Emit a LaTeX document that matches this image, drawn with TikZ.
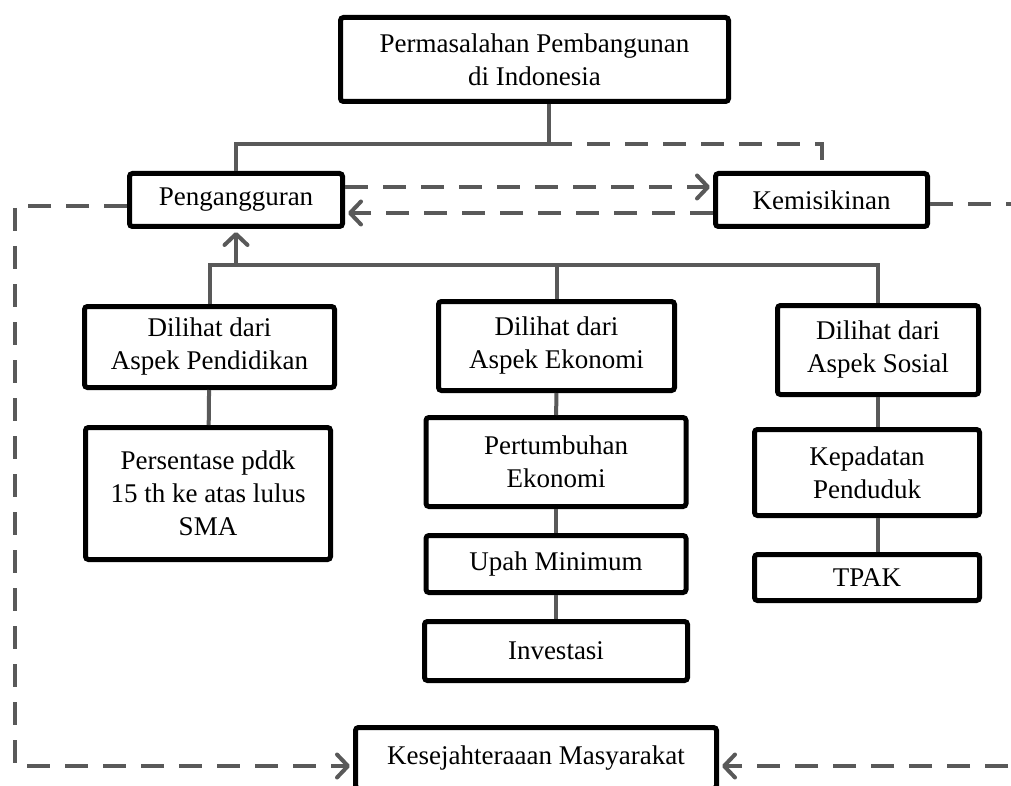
\documentclass[tikz,border=0pt]{standalone}
\usepackage{fontspec}
\setmainfont{Liberation Serif}
\usepackage{tikz}
\usetikzlibrary{arrows.meta,positioning,calc}
\definecolor{abu}{HTML}{595959}
\tikzset{
  kotak/.style={draw=black,fill=white,line width=2.5pt,rounded corners=1.5pt,align=center,inner sep=0pt,font=\fontsize{13.5}{16.5}\selectfont},
  garis/.style={abu,line width=2pt},
  putus/.style={garis,dash pattern=on 11.5pt off 7.5pt},
  panah/.style={-{Straight Barb[length=5.5pt,width=11.5pt,round]},shorten >=1.5pt},
}

\begin{document}
\begin{tikzpicture}[x=0.5pt,y=-0.5pt]
  \clip (0,0) rectangle (1011,786);
  % baris atas
  \node[kotak,minimum width=194pt,minimum height=42pt] (atas) at (534.5,59.5) {Permasalahan Pembangunan\\di Indonesia};
  \node[kotak,minimum width=106.5pt,minimum height=26.5pt] (peng) at (236,200) {Pengangguran};
  \node[kotak,minimum width=106pt,minimum height=26.5pt] (miskin) at (821.5,200) {Kemisikinan};
  % tiga aspek
  \node[kotak,minimum width=125pt,minimum height=40.5pt] (didik) at (209.5,347) {Dilihat dari\\Aspek Pendidikan};
  \node[kotak,minimum width=122.5pt,minimum height=66pt] (sma) at (208,493.5) {Persentase pddk\\15 th ke atas lulus\\SMA};
  \node[kotak,minimum width=118pt,minimum height=44.5pt] (eko) at (556.5,346) {Dilihat dari\\Aspek Ekonomi};
  \node[kotak,minimum width=130pt,minimum height=44.5pt] (tumbuh) at (556,462) {Pertumbuhan\\Ekonomi};
  \node[kotak,minimum width=130pt,minimum height=28.5pt] (upah) at (556,564) {Upah Minimum};
  \node[kotak,minimum width=131.5pt,minimum height=29.5pt] (inv) at (556,651) {Investasi};
  \node[kotak,minimum width=100.5pt,minimum height=44.5pt] (sos) at (878,350) {Dilihat dari\\Aspek Sosial};
  \node[kotak,minimum width=112.5pt,minimum height=43pt] (padat) at (867,472.5) {Kepadatan\\Penduduk};
  \node[kotak,minimum width=112.5pt,minimum height=23pt] (tpak) at (867,577.5) {TPAK};
  \node[kotak,minimum width=180.5pt,minimum height=30.5pt] (sejahtera) at (536,758) {Kesejahteraaan Masyarakat};
  % titik bantu
  \coordinate (cabang) at (549,144);
  \coordinate (bus) at (0,265);
  \coordinate (kiri) at (15,206);
  \coordinate (kanan) at (1030,204);
  % garis
  \draw[garis] (atas.south -| cabang) -- (cabang) -| (peng.north);
  \draw[putus] (cabang) -| (miskin.north);
  \draw[putus,panah] ([yshift=6.5pt]peng.east) -- ([yshift=6.5pt]miskin.west);
  \draw[putus,panah] ([yshift=-6.5pt]miskin.west) -- ([yshift=-6.5pt]peng.east);
  \draw[putus,panah] ([yshift=-3pt]peng.west) -- (kiri) |- ([yshift=-4pt]sejahtera.west);
  \draw[putus,panah] ([yshift=-2pt]miskin.east) -- (kanan) |- ([yshift=-4pt]sejahtera.east);
  \draw[garis] (didik.north) |- (bus -| sos.north) -- (sos.north);
  \draw[garis] (eko.north) -- (eko.north |- bus);
  \draw[garis,panah] (peng.south |- bus) -- (peng.south);
  \draw[garis] (didik) -- (sma);
  \draw[garis] (eko) -- (tumbuh);
  \draw[garis] (tumbuh) -- (upah);
  \draw[garis] (upah) -- (inv);
  \draw[garis] (sos.south) -- (sos.south |- padat.north);
  \draw[garis] (sos.south |- padat.south) -- (sos.south |- tpak.north);
\end{tikzpicture}
\end{document}
